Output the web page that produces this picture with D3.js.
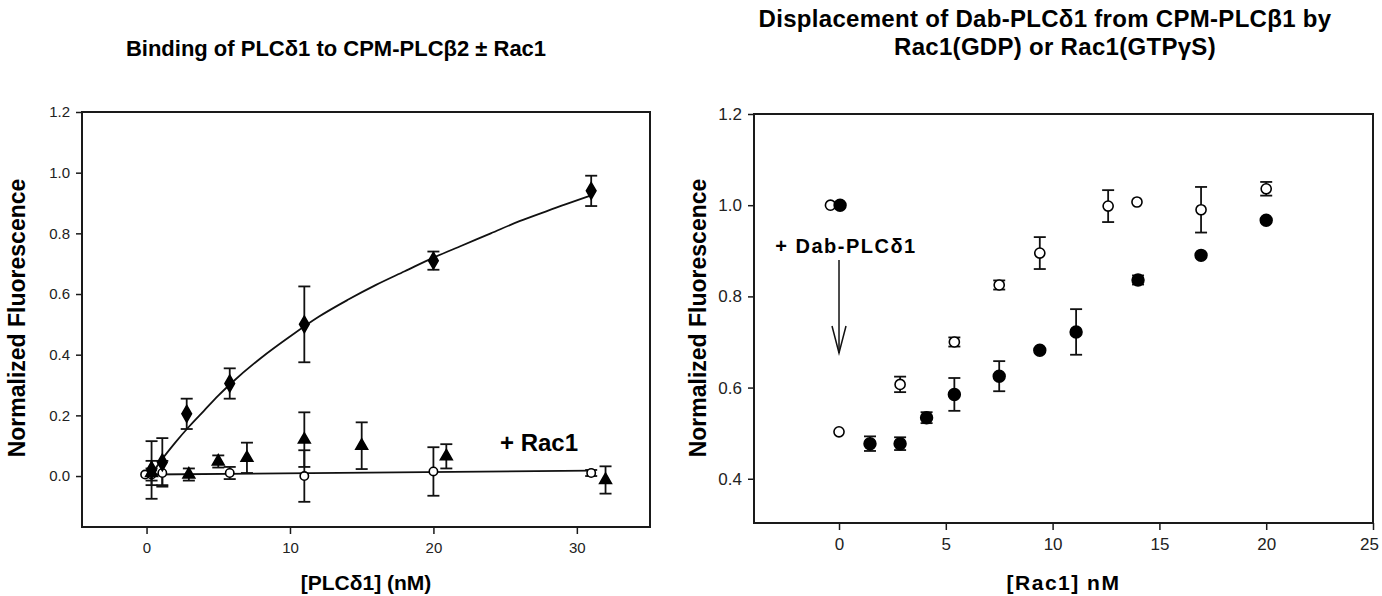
<!DOCTYPE html>
<html>
<head>
<meta charset="utf-8">
<script src="https://cdn.jsdelivr.net/npm/d3@7"></script>
<style>
  body { margin: 0; background: #fff; }
  svg { font-family: "Liberation Sans", Arial, sans-serif; }
</style>
</head>
<body>
<div id="chart"></div>
<script>
// Left panel: binding of PLCd1 to CPM-PLCb2 +/- Rac1
const leftXTicks = [0, 10, 20, 30];
const leftYTicks = [0.0, 0.2, 0.4, 0.6, 0.8, 1.0, 1.2];

// filled diamonds (no Rac1)
const diamondX = [0.35, 1.1, 2.8, 5.8, 11, 20, 31];
const diamondY = [0.02, 0.045, 0.205, 0.305, 0.50, 0.71, 0.94];
const diamondErr = [0.095, 0.08, 0.05, 0.05, 0.125, 0.03, 0.05];

// open circles (+ Rac1)
const openLX = [-0.1, 0.35, 1.1, 5.8, 11, 20, 31];
const openLY = [0.005, 0.005, 0.01, 0.01, 0.0, 0.015, 0.01];
const openLErr = [0.0, 0.02, 0.04, 0.02, 0.085, 0.08, 0.01];

// filled triangles
const triX = [0.35, 2.95, 5.0, 7.0, 11, 15, 20.9, 32];
const triY = [0.01, 0.005, 0.048, 0.06, 0.12, 0.10, 0.065, -0.013];
const triErr = [0.04, 0.02, 0.02, 0.05, 0.09, 0.077, 0.04, 0.045];

// fitted curve
const curveX = [0.4, 1, 2, 3, 4, 5, 6, 8, 10, 12, 14, 16, 18, 20, 22, 24, 26, 28, 31];
const curveY = [0.01, 0.05, 0.11, 0.165, 0.215, 0.265, 0.31, 0.39, 0.46, 0.525, 0.58, 0.63, 0.675, 0.72, 0.76, 0.80, 0.84, 0.875, 0.925];

// flat fit (+ Rac1)
const flatX = [0.3, 31];
const flatY = [0.005, 0.018];

// Right panel: displacement by Rac1
const rightXTicks = [0, 5, 10, 15, 20, 25];
const rightYTicks = [0.4, 0.6, 0.8, 1.0, 1.2];

const openRX = [-0.4, 0, 2.86, 5.4, 7.5, 9.4, 12.6, 13.95, 16.95, 20];
const openRY = [1.0, 0.503, 0.607, 0.70, 0.825, 0.895, 0.998, 1.007, 0.99, 1.036];
const openRErr = [0, 0, 0.017, 0.01, 0.01, 0.035, 0.035, 0, 0.05, 0.015];

const fillRX = [0.05, 1.45, 2.86, 4.1, 5.4, 7.5, 9.4, 11.1, 14, 16.95, 20];
const fillRY = [1.0, 0.477, 0.477, 0.534, 0.585, 0.625, 0.682, 0.722, 0.836, 0.89, 0.967];
const fillRErr = [0, 0.016, 0.014, 0.012, 0.036, 0.033, 0, 0.05, 0.01, 0, 0];

const svg = d3.select("#chart").append("svg")
    .attr("width", 1382)
    .attr("height", 596);

function zip(xs, ys, es) {
    return xs.map((x, i) => ({ x: x, y: ys[i], e: es ? es[i] : 0 }));
}

// generic panel drawing
function drawPanel(opt) {
    const x = d3.scaleLinear().domain(opt.xDomain).range([opt.left, opt.right]);
    const y = d3.scaleLinear().domain(opt.yDomain).range([opt.bottom, opt.top]);
    const g = svg.append("g");

    // frame
    g.append("rect")
        .attr("x", opt.left)
        .attr("y", opt.top)
        .attr("width", opt.right - opt.left)
        .attr("height", opt.bottom - opt.top)
        .attr("fill", "none")
        .attr("stroke", "#1a1a1a")
        .attr("stroke-width", 2);

    const xAxis = g.append("g")
        .attr("transform", `translate(0,${opt.bottom})`)
        .call(d3.axisBottom(x).tickValues(opt.xTicks).tickSize(7).tickPadding(8).tickFormat(d3.format("d")));
    const yAxis = g.append("g")
        .attr("transform", `translate(${opt.left},0)`)
        .call(d3.axisLeft(y).tickValues(opt.yTicks).tickSize(6).tickPadding(6).tickFormat(d3.format(".1f")));

    [xAxis, yAxis].forEach(a => {
        a.select(".domain").remove();
        a.selectAll(".tick line").attr("stroke", "#1a1a1a").attr("stroke-width", 1.5);
        a.selectAll(".tick text")
            .attr("fill", "#222")
            .style("font-family", "'Liberation Sans', Arial, sans-serif")
            .style("font-size", opt.tickFont + "px");
    });

    // axis titles
    g.append("text")
        .attr("x", (opt.left + opt.right) / 2 + (opt.xLabelShift || 0))
        .attr("y", 590)
        .attr("text-anchor", "middle")
        .style("font-size", opt.xLabelFont + "px")
        .style("font-weight", "bold")
        .style("letter-spacing", opt.xLabelSpacing || "0px")
        .text(opt.xLabel);

    g.append("text")
        .attr("transform", `translate(${opt.yLabelX},${opt.yLabelY}) rotate(-90)`)
        .attr("text-anchor", "middle")
        .style("font-size", "23px")
        .style("font-weight", "bold")
        .text("Normalized Fluorescence");

    return { x, y, g, xAxis };
}

function errorBars(p, data, cap) {
    const eb = p.g.append("g").attr("stroke", "#111").attr("stroke-width", 1.8);
    data.filter(d => d.e > 0).forEach(d => {
        const cx = p.x(d.x);
        eb.append("line").attr("x1", cx).attr("x2", cx).attr("y1", p.y(d.y + d.e)).attr("y2", p.y(d.y - d.e));
        eb.append("line").attr("x1", cx - cap).attr("x2", cx + cap).attr("y1", p.y(d.y + d.e)).attr("y2", p.y(d.y + d.e));
        eb.append("line").attr("x1", cx - cap).attr("x2", cx + cap).attr("y1", p.y(d.y - d.e)).attr("y2", p.y(d.y - d.e));
    });
}

function markers(p, data, type, size, filled) {
    p.g.append("g").selectAll("path")
        .data(data)
        .join("path")
        .attr("transform", d => `translate(${p.x(d.x)},${p.y(d.y)})`)
        .attr("d", d3.symbol().type(type).size(size))
        .attr("fill", filled ? "#000" : "#fff")
        .attr("stroke", "#000")
        .attr("stroke-width", 1.6);
}

// ---------- left panel ----------
const L = drawPanel({
    left: 82, right: 650, top: 112, bottom: 527,
    xDomain: [-4.5, 35.1], yDomain: [-0.168, 1.2],
    xTicks: leftXTicks, yTicks: leftYTicks, tickFont: 15,
    xLabel: "[PLCδ1] (nM)", xLabelFont: 21,
    yLabelX: 25, yLabelY: 318
});

const lineGen = d3.line().x(d => L.x(d.x)).y(d => L.y(d.y)).curve(d3.curveMonotoneX);
L.g.append("path")
    .datum(zip(curveX, curveY))
    .attr("d", lineGen)
    .attr("fill", "none")
    .attr("stroke", "#111")
    .attr("stroke-width", 1.8);
L.g.append("path")
    .datum(zip(flatX, flatY))
    .attr("d", lineGen)
    .attr("fill", "none")
    .attr("stroke", "#111")
    .attr("stroke-width", 1.8);

const dData = zip(diamondX, diamondY, diamondErr);
const oLData = zip(openLX, openLY, openLErr);
const tData = zip(triX, triY, triErr);
errorBars(L, oLData, 6);
errorBars(L, tData, 6);
errorBars(L, dData, 6);
markers(L, oLData, d3.symbolCircle, 55, false);
markers(L, tData, d3.symbolTriangle, 60, true);
markers(L, dData, d3.symbolDiamond, 80, true);

L.g.append("text")
    .attr("x", 539)
    .attr("y", 451)
    .attr("text-anchor", "middle")
    .style("font-size", "24px")
    .style("font-weight", "bold")
    .text("+ Rac1");

svg.append("text")
    .attr("x", 336)
    .attr("y", 56)
    .attr("text-anchor", "middle")
    .style("font-size", "22px")
    .style("font-weight", "bold")
    .text("Binding of PLCδ1 to CPM-PLCβ2 ± Rac1");

// ---------- right panel ----------
const R = drawPanel({
    left: 754, right: 1373, top: 114, bottom: 523,
    xDomain: [-3.98, 25], yDomain: [0.303, 1.2],
    xTicks: rightXTicks, yTicks: rightYTicks, tickFont: 17,
    xLabel: "[Rac1] nM", xLabelFont: 21, xLabelSpacing: "1.5px", xLabelShift: 0,
    yLabelX: 706, yLabelY: 318
});
// last tick label sits at the window edge: nudge it inside
R.xAxis.selectAll(".tick text").filter(d => d === 25).attr("dx", -4);

const oRData = zip(openRX, openRY, openRErr);
const fRData = zip(fillRX, fillRY, fillRErr);
errorBars(R, oRData, 6);
errorBars(R, fRData, 6);
markers(R, oRData, d3.symbolCircle, 80, false);
markers(R, fRData, d3.symbolCircle, 110, true);

// arrow for Dab-PLCd1 addition
const ax = R.x(0);
R.g.append("text")
    .attr("x", 846)
    .attr("y", 253)
    .attr("text-anchor", "middle")
    .style("font-size", "20px")
    .style("font-weight", "bold")
    .style("letter-spacing", "1.5px")
    .text("+ Dab-PLCδ1");
R.g.append("line")
    .attr("x1", ax).attr("x2", ax)
    .attr("y1", 260).attr("y2", 353)
    .attr("stroke", "#111").attr("stroke-width", 1.5);
R.g.append("path")
    .attr("d", `M${ax - 7},326 L${ax},353 L${ax + 7},326`)
    .attr("fill", "none")
    .attr("stroke", "#111")
    .attr("stroke-width", 1.5);

svg.append("text")
    .attr("x", 1045)
    .attr("y", 27)
    .attr("text-anchor", "middle")
    .style("font-size", "24px")
    .style("font-weight", "bold")
    .style("letter-spacing", "0.3px")
    .text("Displacement of Dab-PLCδ1 from CPM-PLCβ1 by");
svg.append("text")
    .attr("x", 1055)
    .attr("y", 55)
    .attr("text-anchor", "middle")
    .style("font-size", "24px")
    .style("font-weight", "bold")
    .style("letter-spacing", "0.3px")
    .text("Rac1(GDP) or Rac1(GTPγS)");
</script>
</body>
</html>
